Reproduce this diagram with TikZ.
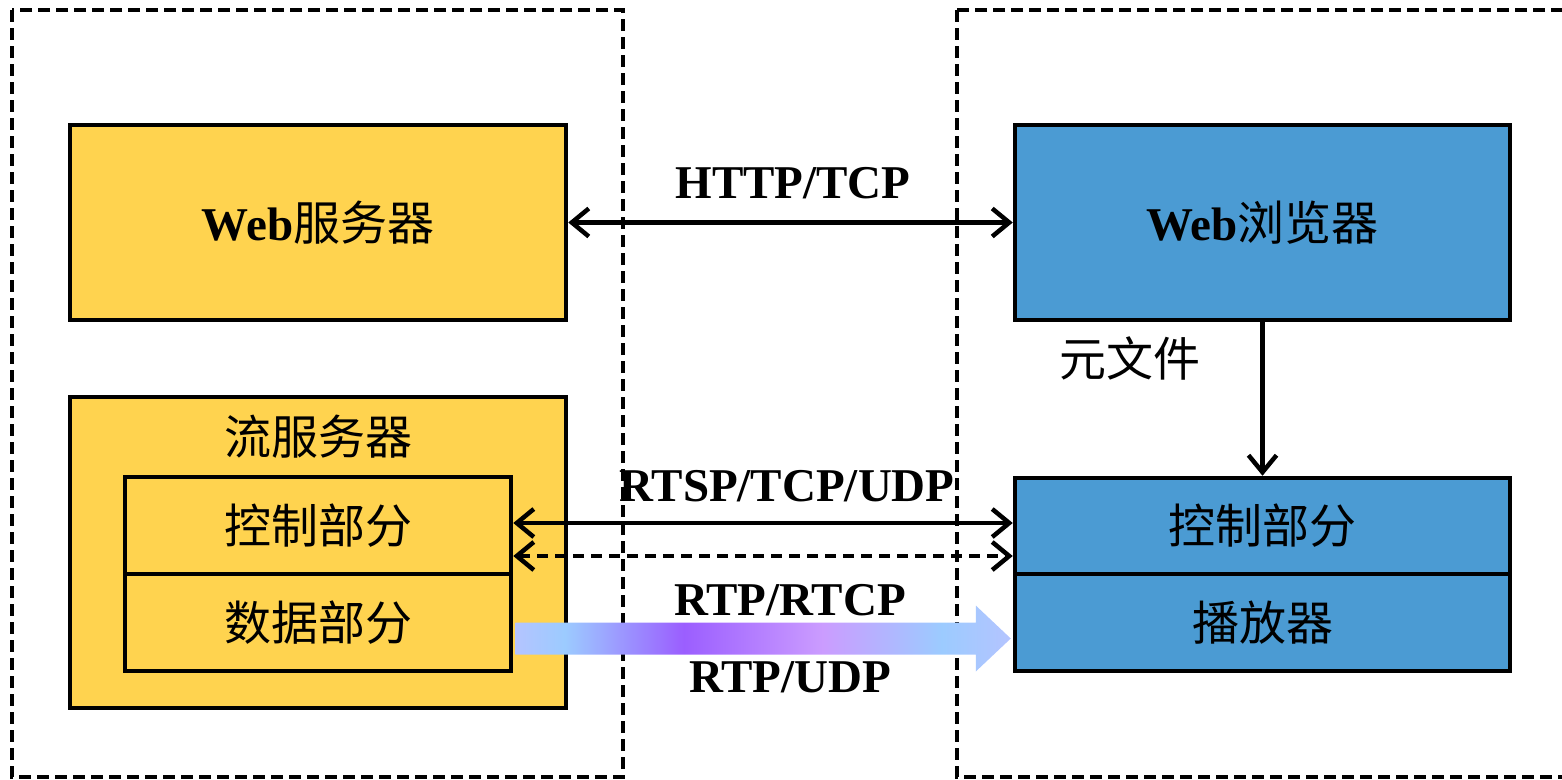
\documentclass[tikz,border=0pt]{standalone}
\usepackage{fontspec}
\setmainfont{Liberation Serif}
\newfontfamily\cjk{Noto Sans CJK SC}
\usepackage{tikz}
\usetikzlibrary{arrows.meta,calc,positioning}
\definecolor{srvyellow}{HTML}{FFD34F}
\definecolor{brwblue}{HTML}{4B9BD3}
\definecolor{flowa}{HTML}{B4C4FF}
\definecolor{flowb}{HTML}{9CCBFF}
\definecolor{flowc}{HTML}{9B5EFF}
\definecolor{flowd}{HTML}{CB9CFF}
% only 25bp..75bp of the shading is seen
\pgfdeclarehorizontalshading{rtpflow}{100bp}{color(0bp)=(flowa); color(25bp)=(flowa);
	color(30bp)=(flowb); color(42bp)=(flowc); color(56bp)=(flowd); color(68bp)=(flowb);
	color(75bp)=(flowa); color(100bp)=(flowa)}
\newcommand{\bigfont}{\fontsize{47}{52}\selectfont}
\tikzstyle{frame}=[
	draw=black,
	line width=4.5,
	dash pattern=on 12 off 6]
\tikzstyle{srvbox}=[
	rectangle,
	draw=black,
	fill=srvyellow,
	line width=4.5,
	inner sep=0,
	font=\bigfont]
\tikzstyle{brwbox}=[
	srvbox,
	fill=brwblue]
\tikzstyle{lbl}=[
	inner sep=0,
	font=\bigfont]
\begin{document}
\begin{tikzpicture}[x=1pt,y=-1pt,>={Straight Barb[length=17pt,width=28pt]}]
		\clip (0,0) rectangle (1562,779);
		% two hosts
		\draw[frame] (12,10) rectangle (623,777);
		\draw[frame] (957,10) rectangle (1600,777);
		% server side
		\node[srvbox,minimum width=496,minimum height=195] (websrv) at (318,222.5)
			{\textbf{Web}{\cjk 服务器}};
		\node[srvbox,minimum width=496,minimum height=311] (strsrv) at (318,552.5){};
		\node[lbl] (strlbl) at (318,437){\cjk 流服务器};
		\node[srvbox,minimum width=386,minimum height=97] (srvctl) at (318,525.5){\cjk 控制部分};
		\node[srvbox,minimum width=386,minimum height=97] (srvdat) at (318,622.5){\cjk 数据部分};
		% client side
		\node[brwbox,minimum width=495,minimum height=195] (webbrw) at (1262.5,222.5)
			{\textbf{Web}{\cjk 浏览器}};
		\node[brwbox,minimum width=495,minimum height=96] (brwctl) at (1262.5,526){\cjk 控制部分};
		\node[brwbox,minimum width=495,minimum height=97] (player) at (1262.5,622.5){\cjk 播放器};
		% links
		\draw[<->,line width=4.5] (websrv) -- (webbrw);
		\node[lbl] (http) at (793,183){\textbf{HTTP/TCP}};
		\draw[->,line width=4.5] (webbrw) -- (brwctl);
		\node[lbl] (meta) at (1130,358){\cjk 元文件};
		\draw[<->,line width=4.5] ($(srvctl.east)+(0,-2.5)$) -- ($(brwctl.west)+(0,-3)$);
		\draw[<->,line width=4.5,dash pattern=on 11 off 7] ($(srvctl.east)+(0,30.5)$) -- ($(brwctl.west)+(0,30)$);
		\node[lbl] (rtsp) at (787,486){\textbf{RTSP/TCP/UDP}};
		\coordinate (fs) at ($(srvdat.east)+(2,16)$);
		\coordinate (fe) at ($(player.west)+(-2,16)$);
		\shade[shading=rtpflow] ($(fs)+(0,-16)$) -- ($(fe)+(-35,-16)$) -- ($(fe)+(-35,-33)$) -- (fe)
			-- ($(fe)+(-35,33)$) -- ($(fe)+(-35,16)$) -- ($(fs)+(0,16)$) -- cycle;
		\node[lbl] (rtcp) at (790,600){\textbf{RTP/RTCP}};
		\node[lbl] (rtpudp) at (790,677){\textbf{RTP/UDP}};
	\end{tikzpicture}
\end{document}
